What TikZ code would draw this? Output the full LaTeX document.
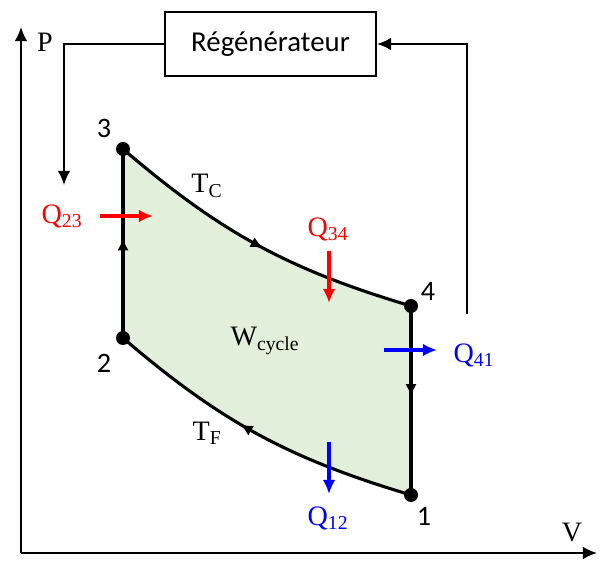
\documentclass[tikz,border=0pt]{standalone}
\usepackage{fontspec}
\setmainfont{Liberation Serif}
\setmathrm{Liberation Serif}
\newfontfamily\calib{Carlito}
\usetikzlibrary{arrows.meta,decorations.markings,backgrounds}
\definecolor{cyclegreen}{HTML}{E2EFDA}

\begin{document}
\begin{tikzpicture}[x=0.025cm,y=-0.025cm,font=\fontsize{20}{24}\selectfont,
  >={Latex[length=10pt,width=9pt]},
  pt/.style={circle,fill=black,inner sep=0pt,minimum size=0.35cm},
  num/.style={font=\calib\fontsize{20}{24}\selectfont},
  regbox/.style={draw,line width=1.4pt,minimum width=5.275cm,minimum height=1.6cm,font=\calib\fontsize{20.5}{24}\selectfont},
  cyc/.style={line width=2.2pt},
  midarr/.style={postaction={decorate},decoration={markings,mark=at position #1 with {\arrow{Latex[length=9pt,width=8pt]}}}},
  heat/.style={->,line width=2.2pt,>={Latex[length=10pt,width=9pt]}},
  ax/.style={->,line width=1.4pt}]
  \useasboundingbox (0,0) rectangle (600,569);
  % axes
  \coordinate (o) at (21,553);
  \coordinate (ptop) at (21,27);
  \coordinate (vend) at (597,553);
  \draw[ax] (o) -- (ptop);
  \draw[ax] (o) -- (vend);
  \node (plab) at (45,42) {P};
  \node (vlab) at (572,533) {V};
  % regenerator
  \node[regbox] (regen) at (270.5,44) {Régénérateur};
  \coordinate (rin) at (64,185);
  \coordinate (rout) at (467,314);
  \draw[ax] (regen.west) -| (rin);
  \draw[ax] (rout) |- (regen.east);
  % states of the cycle
  \node[pt] (p3) at (123,149) {};
  \node[pt] (p4) at (411,306) {};
  \node[pt] (p2) at (123,338) {};
  \node[pt] (p1) at (411,495) {};
  \node[num] (n3) at (104,128) {3};
  \node[num] (n4) at (428,291) {4};
  \node[num] (n2) at (104,363) {2};
  \node[num] (n1) at (424,516) {1};
  \begin{scope}[on background layer]
    \fill[cyclegreen] (p3.center) to[bend right=12] (p4.center) -- (p1.center)
      to[bend left=12] (p2.center) -- cycle;
  \end{scope}
  \draw[cyc,midarr=0.53] (p2.center) -- (p3.center);
  \draw[cyc,midarr=0.52] (p3.center) to[bend right=12] (p4.center);
  \draw[cyc,midarr=0.48] (p4.center) -- (p1.center);
  \draw[cyc,midarr=0.56] (p1.center) to[bend left=12] (p2.center);
  \node (tc) at (207,186) {$\mathrm{T_C}$};
  \node (tf) at (207,433) {$\mathrm{T_F}$};
  \node (wc) at (265,341) {$\mathrm{W_{cycle}}$};
  % heat exchanges
  \node[red] (q23) at (62,216) {$\mathrm{Q_{23}}$};
  \node[red] (q34) at (328,229) {$\mathrm{Q_{34}}$};
  \node[blue] (q41) at (474,355) {$\mathrm{Q_{41}}$};
  \node[blue] (q12) at (328,518) {$\mathrm{Q_{12}}$};
  \coordinate (a23) at (100,216); \coordinate (b23) at (153,216);
  \coordinate (a34) at (329,251); \coordinate (b34) at (329,303);
  \coordinate (a41) at (384,350); \coordinate (b41) at (437,350);
  \coordinate (a12) at (329,442); \coordinate (b12) at (329,494);
  \draw[heat,red] (a23) -- (b23);
  \draw[heat,red] (a34) -- (b34);
  \draw[heat,blue] (a41) -- (b41);
  \draw[heat,blue] (a12) -- (b12);
\end{tikzpicture}
\end{document}
